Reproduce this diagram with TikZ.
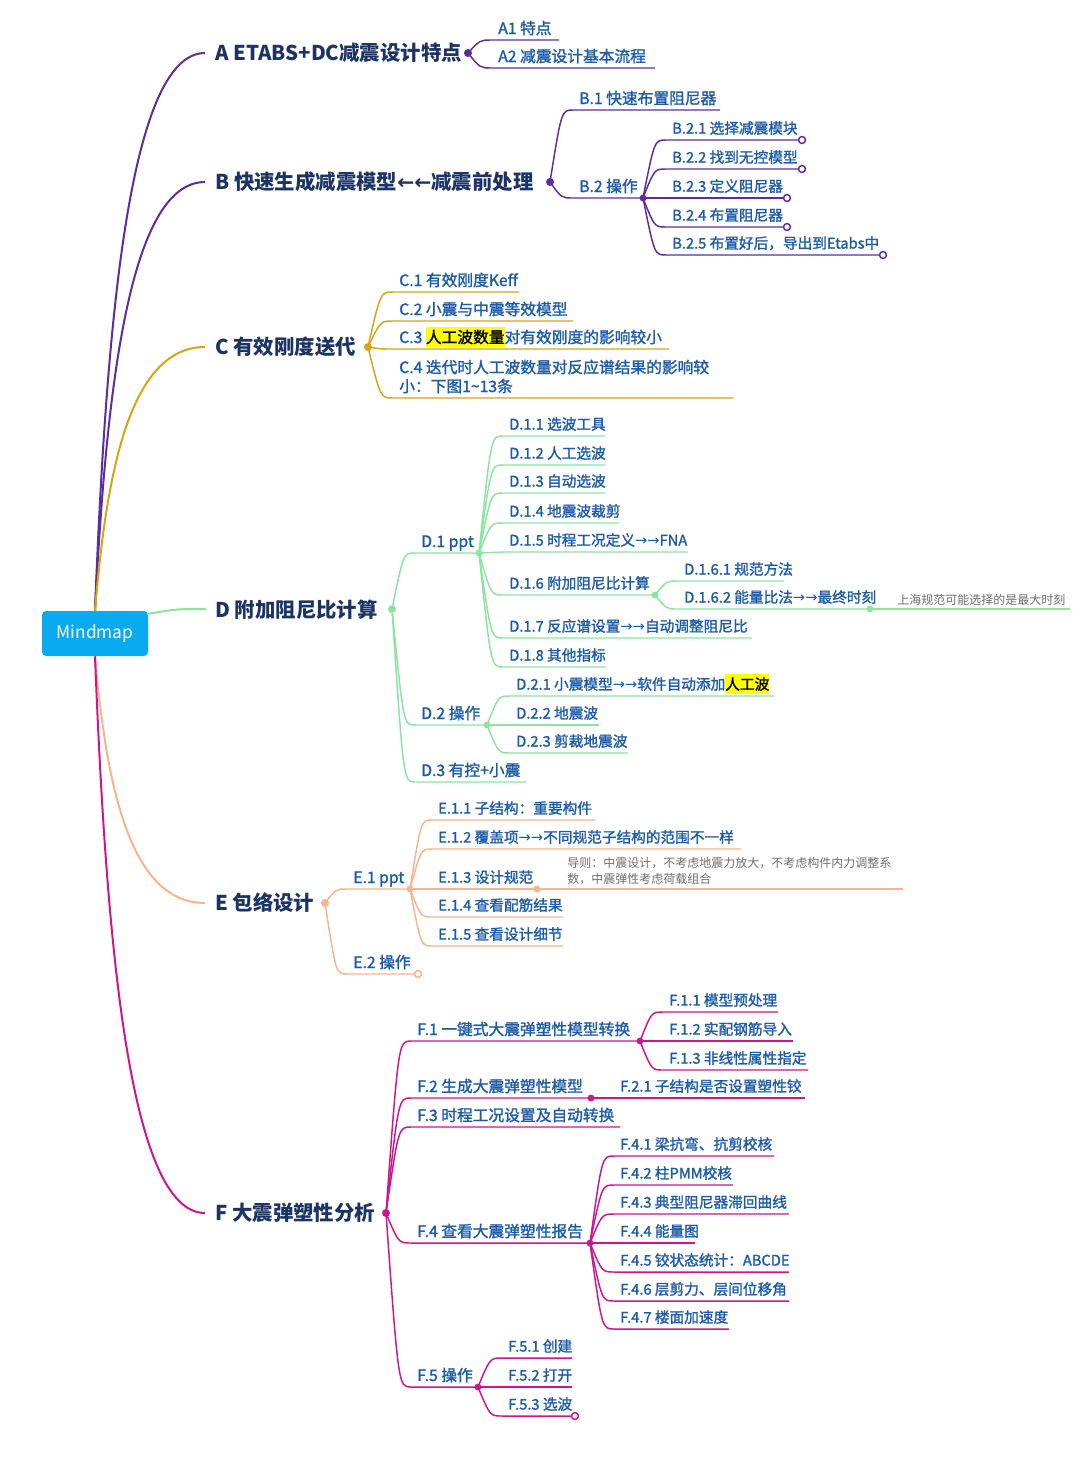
\documentclass[tikz,border=0pt]{standalone}
\usepackage{fontspec}
\setmainfont{Noto Sans CJK SC}
\newfontfamily\subfont{Noto Sans CJK SC}[FakeBold=1.5]
\newfontfamily\arrfont{DejaVu Sans}
\usetikzlibrary{calc}
\definecolor{cpur}{RGB}{92,45,160}
\definecolor{cgold}{RGB}{215,165,20}
\definecolor{cgreen}{RGB}{140,228,160}
\definecolor{cpeach}{RGB}{248,180,140}
\definecolor{cmag}{RGB}{205,22,140}
\definecolor{croot}{RGB}{8,170,240}
\definecolor{cmain}{RGB}{28,52,100}
\definecolor{csub}{RGB}{28,92,168}
\definecolor{cnote}{RGB}{110,110,110}
\definecolor{hly}{RGB}{255,255,0}
\newcommand\hl[1]{{\setlength{\fboxsep}{0pt}\colorbox{hly}{\color{black}\rule[-0.28em]{0pt}{1.32em}#1}}}
\newcommand\rar{{\arrfont\char"2192}}
\newcommand\lar{{\arrfont\char"2190}}
% level-2+ child
\newcommand\leaf[7]{%
  \node[sublbl] (#1) at (#4,#5-12) {#7};
  \coordinate (#1j) at (#4-6,#5);
  \coordinate (#1e) at (#6,#5);
  \draw[kidline,#2] (#3) to[kid] (#1j) -- (#1e);}
% level-1 child
\newcommand\leafone[7]{%
  \node[sublblone] (#1) at (#4,#5-12) {#7};
  \coordinate (#1j) at (#4-6,#5);
  \coordinate (#1e) at (#6,#5);
  \draw[kidline,#2] (#3) to[kid] (#1j) -- (#1e);}
\newcommand\mdot[3]{\fill[#2] (#1) circle[radius=#3];}
\newcommand\ocirc[2]{\draw[kidline,#2,fill=white] (#1) circle[radius=2.6pt];}
\tikzset{
  kid/.style={to path={let \p1=(\tikztostart),\p2=(\tikztotarget) in
     .. controls ({\x1+0.5*(\x2-\x1)},\y2) .. (\tikztotarget)}},
  rootc/.style={to path={let \p1=(\tikztostart),\p2=(\tikztotarget) in
     .. controls ({\x1+0.1*(\x2-\x1)},{\y1+0.5*(\y2-\y1)}) and ({\x1+0.3*(\x2-\x1)},\y2) .. (\tikztotarget)}},
  rootline/.style={line width=1.5pt},
  kidline/.style={line width=1.1pt},
  mainlbl/.style={anchor=west, inner sep=0pt, text=cmain, font=\bfseries\fontsize{15.3pt}{18pt}\selectfont, text height=13.45pt, text depth=1.85pt},
  sublbl/.style={anchor=west, inner sep=0pt, text=csub, font=\subfont\fontsize{11pt}{14.25pt}\selectfont, text height=9.7pt, text depth=1.3pt},
  sublblone/.style={anchor=west, inner sep=0pt, text=csub, font=\subfont\fontsize{11.8pt}{14.25pt}\selectfont, text height=10.4pt, text depth=1.4pt},
  sublbltwo/.style={anchor=west, inner sep=0pt, text=csub, align=left, font=\subfont\fontsize{11.8pt}{14.25pt}\selectfont},
  notelbl/.style={anchor=west, inner sep=0pt, text=cnote, align=left, font=\fontsize{9pt}{12pt}\selectfont},
  rootbox/.style={fill=croot, text=white, rounded corners=3pt, minimum width=79.5pt, minimum height=33.75pt, inner sep=0pt, font=\fontsize{13pt}{15pt}\selectfont},
}
\begin{document}
\begin{tikzpicture}[x=0.75pt,y=-0.75pt]
\useasboundingbox (0,0) rectangle (1080,1467);
\fill[white] (0,0) rectangle (1080,1467);
\node[rootbox] (root) at (95,633.5) {Mindmap};
\coordinate (rD) at (147,614);
% ---------------- A
\node[mainlbl] (A) at (215,53) {A ETABS+DC减震设计特点};
\coordinate (Aend) at (205,53);
\coordinate (AP) at (468,53);
\draw[rootline,cpur] (root.north) to[rootc] (Aend);
\leafone{aa}{cpur}{AP}{498}{40}{559}{A1 特点}
\leafone{ab}{cpur}{AP}{498}{68}{655}{A2 减震设计基本流程}
% ---------------- B
\node[mainlbl] (B) at (215,182) {B 快速生成减震模型\lar\lar 减震前处理};
\coordinate (Bend) at (205,182);
\coordinate (BP) at (550,182);
\draw[rootline,cpur] (root.north) to[rootc] (Bend);
\leafone{ba}{cpur}{BP}{579}{110}{720}{B.1 快速布置阻尼器}
\leafone{bb}{cpur}{BP}{579}{198}{643}{B.2 操作}
\coordinate (bbP) at (643,198);
\leaf{bba}{cpur}{bbP}{672}{140}{802}{B.2.1 选择减震模块}
\leaf{bbb}{cpur}{bbP}{672}{169}{802}{B.2.2 找到无控模型}
\leaf{bbc}{cpur}{bbP}{672}{198}{787}{B.2.3 定义阻尼器}
\leaf{bbd}{cpur}{bbP}{672}{227}{787}{B.2.4 布置阻尼器}
\leaf{bbe}{cpur}{bbP}{672}{255}{883}{B.2.5 布置好后，导出到Etabs中}
% ---------------- C
\node[mainlbl] (C) at (215,347) {C 有效刚度送代};
\coordinate (Cend) at (205,347);
\coordinate (CP) at (368,347);
\draw[rootline,cgold] (root.north) to[rootc] (Cend);
\leafone{ca}{cgold}{CP}{399}{292}{519}{C.1 有效刚度Keff}
\leafone{cb}{cgold}{CP}{399}{321}{573}{C.2 小震与中震等效模型}
\leafone{cc}{cgold}{CP}{399}{349}{669}{C.3 \hl{人工波数量}对有效刚度的影响较小}
\node[sublbltwo] (cd) at (399,376.5) {C.4 迭代时人工波数量对反应谱结果的影响较\\小：下图1\textasciitilde 13条};
\coordinate (cdj) at (393,398);
\coordinate (cde) at (733,398);
\draw[kidline,cgold] (CP) to[kid] (cdj) -- (cde);
% ---------------- D
\node[mainlbl] (D) at (215,610) {D 附加阻尼比计算};
\coordinate (Dend) at (206,609);
\coordinate (DP) at (392,609);
\draw[rootline,cgreen] (rD) to[kid] (Dend);
\leafone{da}{cgreen}{DP}{421}{553}{479}{D.1 ppt}
\coordinate (daP) at (479,553);
\leaf{daa}{cgreen}{daP}{509}{436}{605}{D.1.1 选波工具}
\leaf{dab}{cgreen}{daP}{509}{465}{605}{D.1.2 人工选波}
\leaf{dac}{cgreen}{daP}{509}{493}{605}{D.1.3 自动选波}
\leaf{dad}{cgreen}{daP}{509}{523}{619}{D.1.4 地震波裁剪}
\leaf{dae}{cgreen}{daP}{509}{552}{688}{D.1.5 时程工况定义\rar\rar FNA}
\leaf{daf}{cgreen}{daP}{509}{595}{655}{D.1.6 附加阻尼比计算}
\leaf{dag}{cgreen}{daP}{509}{638}{752}{D.1.7 反应谱设置\rar\rar 自动调整阻尼比}
\leaf{dah}{cgreen}{daP}{509}{667}{606}{D.1.8 其他指标}
\coordinate (dafP) at (655,595);
\leaf{dafa}{cgreen}{dafP}{684}{581}{784}{D.1.6.1 规范方法}
\leaf{dafb}{cgreen}{dafP}{684}{609}{870}{D.1.6.2 能量比法\rar\rar 最终时刻}
\coordinate (dafbP) at (870,609);
\node[notelbl] (dnote) at (897,600) {上海规范可能选择的是最大时刻};
\coordinate (dnotee) at (1070,609);
\draw[kidline,cgreen] (dafbP) -- (dnotee);
\leafone{db}{cgreen}{DP}{421}{725}{487}{D.2 操作}
\coordinate (dbP) at (487,725);
\leaf{dba}{cgreen}{dbP}{516}{696}{774}{D.2.1 小震模型\rar\rar 软件自动添加\hl{人工波}}
\leaf{dbb}{cgreen}{dbP}{516}{725}{599}{D.2.2 地震波}
\leaf{dbc}{cgreen}{dbP}{516}{753}{628}{D.2.3 剪裁地震波}
\leafone{dc}{cgreen}{DP}{421}{782}{526}{D.3 有控+小震}
% ---------------- E
\node[mainlbl] (E) at (215,903) {E 包络设计};
\coordinate (Eend) at (205,903);
\coordinate (EP) at (325,903);
\draw[rootline,cpeach] (root.south) to[rootc] (Eend);
\leafone{ea}{cpeach}{EP}{353}{889}{410}{E.1 ppt}
\coordinate (eaP) at (410,889);
\leaf{eaa}{cpeach}{eaP}{438}{820}{595}{E.1.1 子结构：重要构件}
\leaf{eab}{cpeach}{eaP}{438}{849}{741}{E.1.2 覆盖项\rar\rar 不同规范子结构的范围不一样}
\leaf{eac}{cpeach}{eaP}{438}{889}{537}{E.1.3 设计规范}
\leaf{ead}{cpeach}{eaP}{438}{917}{563}{E.1.4 查看配筋结果}
\leaf{eae}{cpeach}{eaP}{438}{946}{563}{E.1.5 查看设计细节}
\coordinate (eacP) at (537,889);
\node[notelbl] (enote) at (567,871) {导则：中震设计，不考虑地震力放大，不考虑构件内力调整系\\数，中震弹性考虑荷载组合};
\coordinate (enotee) at (903,889);
\draw[kidline,cpeach] (eacP) -- (enotee);
\leafone{eb}{cpeach}{EP}{353}{974}{418}{E.2 操作}
% ---------------- F
\node[mainlbl] (F) at (215,1213) {F 大震弹塑性分析};
\coordinate (Fend) at (205,1213);
\coordinate (FP) at (386,1213);
\draw[rootline,cmag] (root.south) to[rootc] (Fend);
\leafone{fa}{cmag}{FP}{417}{1041}{640}{F.1 一键式大震弹塑性模型转换}
\coordinate (faP) at (640,1041);
\leaf{faa}{cmag}{faP}{669}{1012}{778}{F.1.1 模型预处理}
\leaf{fab}{cmag}{faP}{669}{1041}{793}{F.1.2 实配钢筋导入}
\leaf{fac}{cmag}{faP}{669}{1070}{808}{F.1.3 非线性属性指定}
\leafone{fb}{cmag}{FP}{417}{1098}{591}{F.2 生成大震弹塑性模型}
\coordinate (fbP) at (591,1098);
\leaf{fba}{cmag}{fbP}{620}{1098}{805}{F.2.1 子结构是否设置塑性铰}
\leafone{fc}{cmag}{FP}{417}{1127}{620}{F.3 时程工况设置及自动转换}
\leafone{fd}{cmag}{FP}{417}{1243}{590}{F.4 查看大震弹塑性报告}
\coordinate (fdP) at (590,1243);
\leaf{fda}{cmag}{fdP}{620}{1156}{774}{F.4.1 梁抗弯、抗剪校核}
\leaf{fdb}{cmag}{fdP}{620}{1185}{733}{F.4.2 柱PMM校核}
\leaf{fdc}{cmag}{fdP}{620}{1214}{789}{F.4.3 典型阻尼器滞回曲线}
\leaf{fdd}{cmag}{fdP}{620}{1243}{695}{F.4.4 能量图}
\leaf{fde}{cmag}{fdP}{620}{1272}{789}{F.4.5 铰状态统计：ABCDE}
\leaf{fdf}{cmag}{fdP}{620}{1301}{789}{F.4.6 层剪力、层间位移角}
\leaf{fdg}{cmag}{fdP}{620}{1329}{729}{F.4.7 楼面加速度}
\leafone{fe}{cmag}{FP}{417}{1387}{478}{F.5 操作}
\coordinate (feP) at (478,1387);
\leaf{fea}{cmag}{feP}{508}{1358}{572}{F.5.1 创建}
\leaf{feb}{cmag}{feP}{508}{1387}{572}{F.5.2 打开}
\leaf{fec}{cmag}{feP}{508}{1416}{575}{F.5.3 选波}
% ---------------- dots
\mdot{AP}{cpur}{3pt}
\mdot{BP}{cpur}{3pt}
\mdot{bbP}{cpur}{2.6pt}
\mdot{CP}{cgold}{3pt}
\mdot{DP}{cgreen}{3pt}
\mdot{daP}{cgreen}{2.6pt}
\mdot{dafP}{cgreen}{2.6pt}
\mdot{dafbP}{cgreen}{2.6pt}
\mdot{dbP}{cgreen}{2.6pt}
\mdot{EP}{cpeach}{3pt}
\mdot{eaP}{cpeach}{2.6pt}
\mdot{eacP}{cpeach}{2.6pt}
\mdot{FP}{cmag}{3pt}
\mdot{faP}{cmag}{2.6pt}
\mdot{fbP}{cmag}{2.6pt}
\mdot{fdP}{cmag}{2.6pt}
\mdot{feP}{cmag}{2.6pt}
% open circles
\ocirc{bbae}{cpur}
\ocirc{bbbe}{cpur}
\ocirc{bbce}{cpur}
\ocirc{bbde}{cpur}
\ocirc{bbee}{cpur}
\ocirc{ebe}{cpeach}
\ocirc{fece}{cmag}
\end{tikzpicture}
\end{document}
